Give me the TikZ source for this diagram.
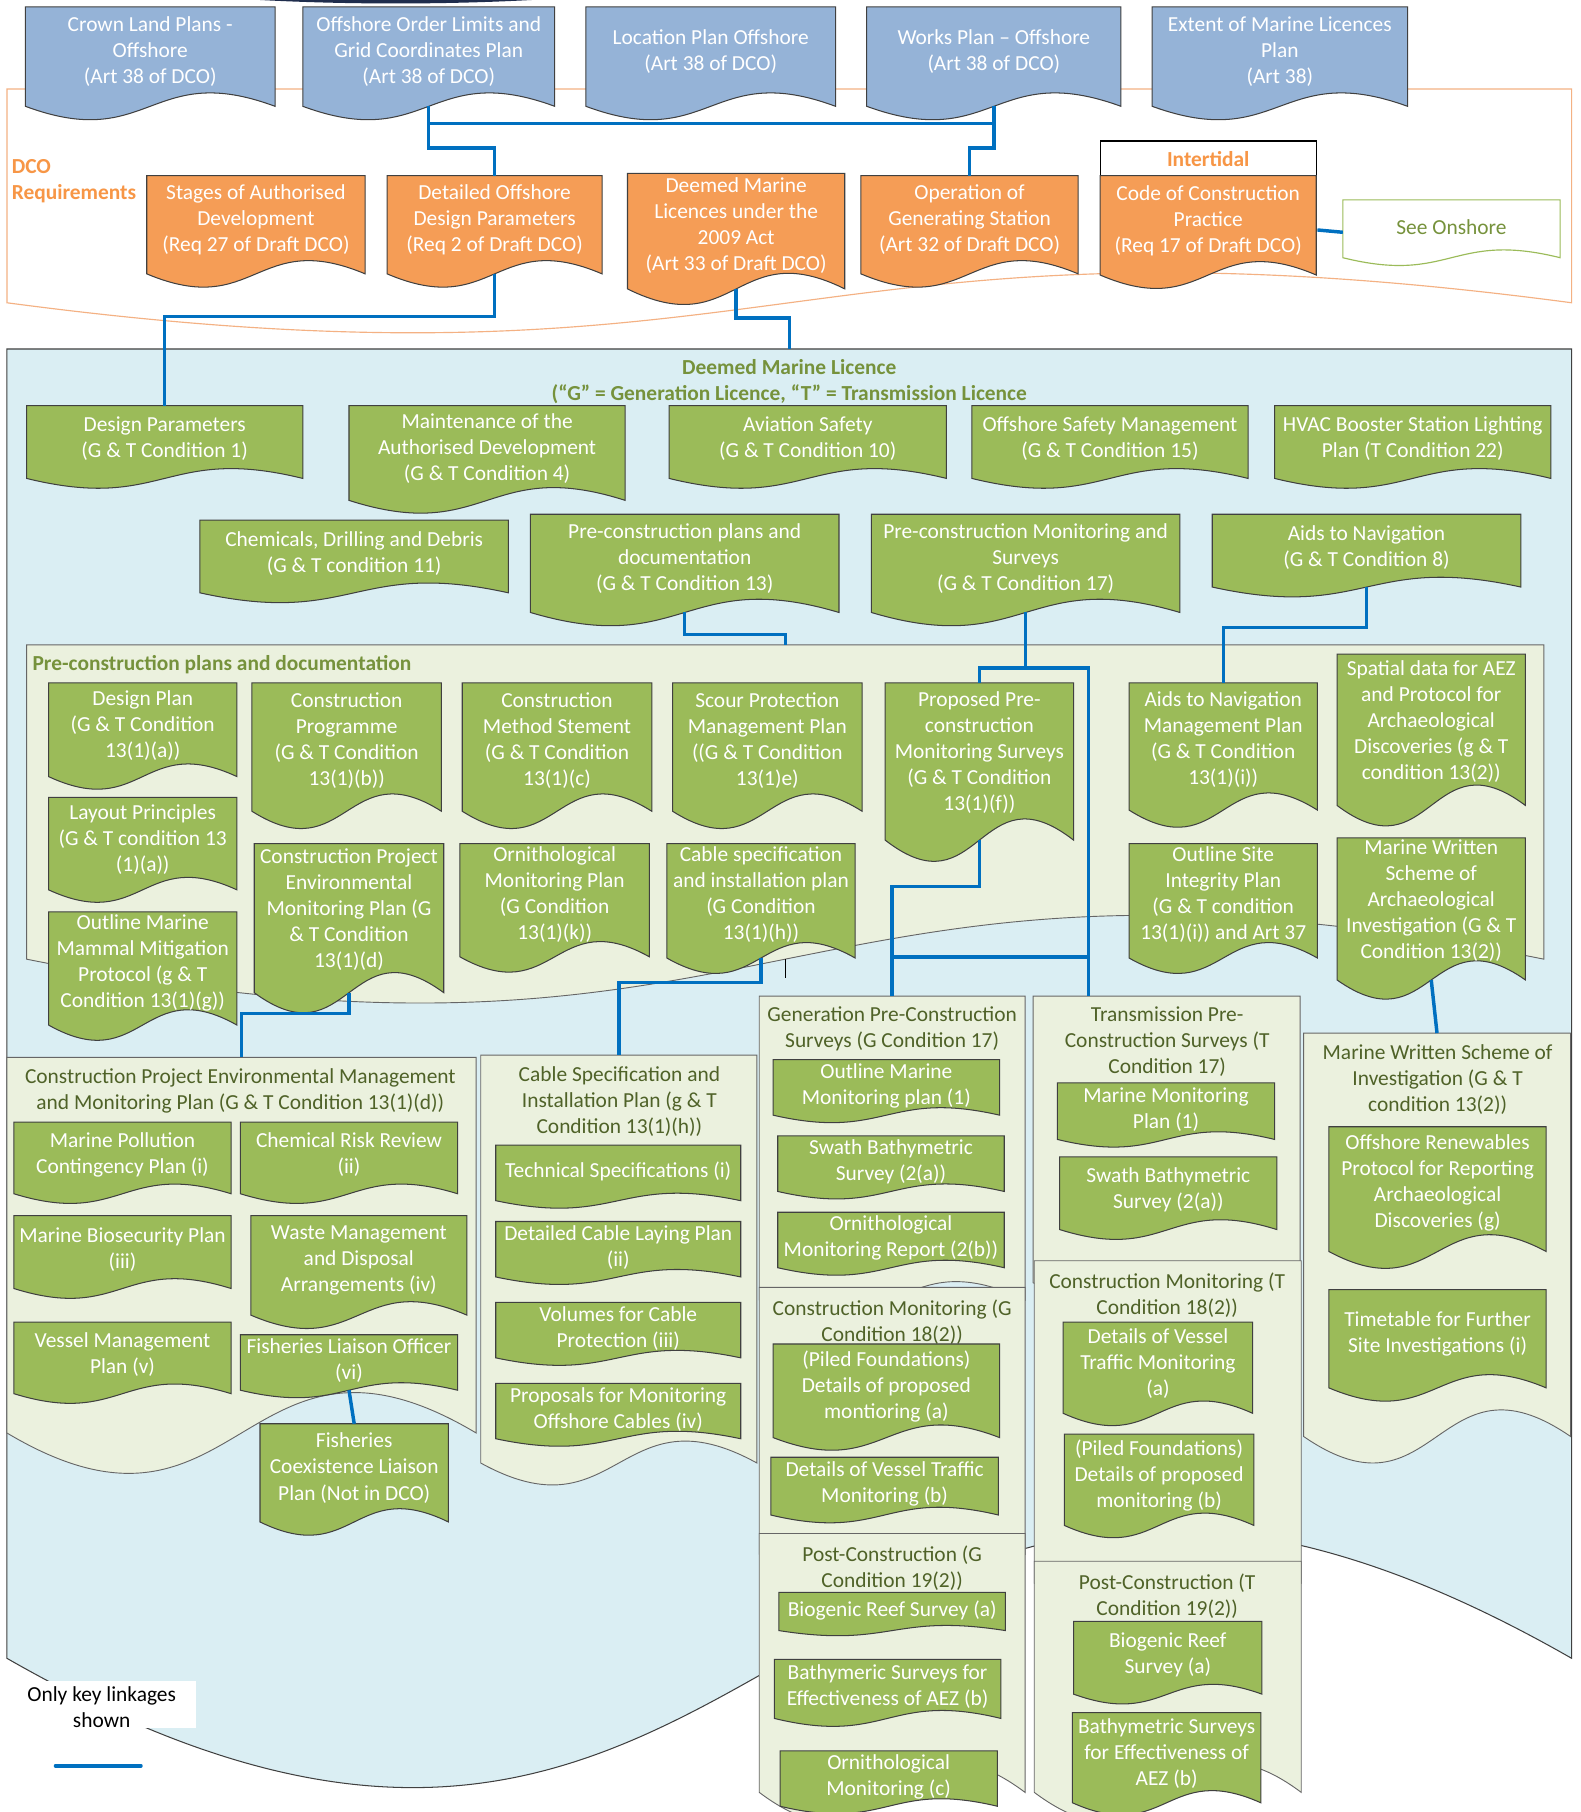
\documentclass[tikz,border=0pt]{standalone}
\usepackage{fontspec}
\setmainfont{Carlito}
\definecolor{docblue}{HTML}{95B3D7}
\definecolor{docorange}{HTML}{F59D56}
\definecolor{docgreen}{HTML}{9BBB59}
\definecolor{docline}{HTML}{404040}
\definecolor{bgblue}{HTML}{DAEEF3}
\definecolor{bggreen}{HTML}{EBF1DE}
\definecolor{linkblue}{HTML}{0070C0}
\definecolor{dcoorange}{HTML}{F79646}
\definecolor{dcoline}{HTML}{F4B183}
\definecolor{titlegreen}{HTML}{76923C}
\definecolor{regtext}{HTML}{4F6228}
\definecolor{navyband}{HTML}{1F2D4D}
\newcommand\docbox[7]{%
  \pgfmathsetmacro\dX{(#3+#5)/2}%
  \pgfmathsetmacro\dK{0.135*(#6-#4)/0.289}%
  \pgfmathsetmacro\dA{#6-\dK}%
  \pgfmathsetmacro\dB{#6+\dK}%
  \pgfmathsetmacro\dY{#4+0.43*(#6-#4)+1.8}%
  \path[#2] (#3,#4) -- (#5,#4) -- (#5,#6) .. controls (\dX,\dA) and (\dX,\dB) .. (#3,#6) -- cycle;
  \node[doctext,#2 txt] (#1) at (\dX,\dY) {#7};
  \coordinate (#1-t) at (\dX,#4);
  \coordinate (#1-b) at (\dX,#6);
}
\newcommand\regshape[7]{%
  \pgfmathsetmacro\dX{(#3+#5)/2}%
  \pgfmathsetmacro\dK{#7/0.289}%
  \pgfmathsetmacro\dA{#6-\dK}%
  \pgfmathsetmacro\dB{#6+\dK}%
  \path[#2] (#3,#4) -- (#5,#4) -- (#5,#6) .. controls (\dX,\dA) and (\dX,\dB) .. (#3,#6) -- cycle;
  \coordinate (#1-t) at (\dX,#4);
}
\begin{document}
\begin{tikzpicture}[x=1bp,y=-1bp,
  doctext/.style={align=center,inner sep=0pt,font=\fontsize{18.6}{22.6}\selectfont},
  boldtext/.style={doctext,font=\fontsize{18.6}{22.6}\selectfont\bfseries},
  bluedoc/.style={fill=docblue,draw=docline,line width=0.9pt},
  bluedoc txt/.style={text=white},
  orangedoc/.style={fill=docorange,draw=docline,line width=0.9pt},
  orangedoc txt/.style={text=white},
  greendoc/.style={fill=docgreen,draw=docline,line width=0.9pt},
  greendoc txt/.style={text=white},
  onshore/.style={fill=white,draw=docgreen,line width=1pt},
  onshore txt/.style={text=titlegreen},
  regbox/.style={fill=bggreen,draw=docline!80,line width=0.8pt},
  regtitle/.style={doctext,text=regtext},
  link/.style={draw=linkblue,line width=3pt},
]
\useasboundingbox (0,0) rectangle (1368,1568);
\fill[white] (0,0) rectangle (1368,1568);
% top sliver
\fill[navyband] (225,0) .. controls (300,4) and (385,4) .. (460,0) -- cycle;

% DCO requirements outline
\regshape{dco}{draw=dcoline,line width=1pt}{6}{77}{1360}{262}{26}
\node[boldtext,align=left,anchor=west,text=dcoorange] (dcolab) at (10,157) {DCO\\Requirements};

% top blue documents
\docbox{cl}{bluedoc}{22}{6}{238}{92}{Crown Land Plans -\\Offshore\\(Art 38 of DCO)}
\docbox{ool}{bluedoc}{262}{6}{480}{92}{Offshore Order Limits and\\Grid Coordinates Plan\\(Art 38 of DCO)}
\docbox{lpo}{bluedoc}{507}{6}{723}{92}{Location Plan Offshore\\(Art 38 of DCO)}
\docbox{wp}{bluedoc}{750}{6}{970}{92}{Works Plan – Offshore\\(Art 38 of DCO)}
\docbox{eml}{bluedoc}{997}{6}{1218}{92}{Extent of Marine Licences\\Plan\\(Art 38)}

% orange documents
\docbox{sad}{orangedoc}{127}{152}{316}{237}{Stages of Authorised\\Development\\(Req 27 of Draft DCO)}
\docbox{dod}{orangedoc}{335}{152}{521}{237}{Detailed Offshore\\Design Parameters\\(Req 2 of Draft DCO)}
\docbox{dml}{orangedoc}{543}{150}{731}{250}{Deemed Marine\\Licences under the\\2009 Act\\(Art 33 of Draft DCO)}
\docbox{ogs}{orangedoc}{745}{152}{933}{237}{Operation of\\Generating Station\\(Art 32 of Draft DCO)}
\draw[fill=white,draw=black,line width=0.9pt] (952,122) rectangle (1139,152);
\node[boldtext,text=dcoorange] (intert) at (1045.5,138) {Intertidal};
\docbox{cocp}{orangedoc}{952}{152}{1139}{238}{Code of Construction\\Practice\\(Req 17 of Draft DCO)}
\docbox{seeon}{onshore}{1162}{173}{1350}{223}{See Onshore}
\coordinate (cocp-e) at (1140,199);
\coordinate (seeon-w) at (1162,201);

% Deemed marine licence region
\regshape{dmlr}{fill=bgblue,draw=docline,line width=0.9pt}{6}{302}{1360}{1435}{112}
\node[boldtext,text=titlegreen] (dmltitle) at (683,330) {Deemed Marine Licence\\(“G” = Generation Licence, “T” = Transmission Licence};

\docbox{dp}{greendoc}{23}{351}{262}{414}{Design Parameters\\(G \& T Condition 1)}
\docbox{mad}{greendoc}{302}{351}{541}{433}{Maintenance of the\\Authorised Development\\(G \& T Condition 4)}
\docbox{avs}{greendoc}{579}{351}{819}{414}{Aviation Safety\\(G \& T Condition 10)}
\docbox{osm}{greendoc}{841}{351}{1080}{414}{Offshore Safety Management\\(G \& T Condition 15)}
\docbox{hvac}{greendoc}{1103}{351}{1342}{414}{HVAC Booster Station Lighting\\Plan (T Condition 22)}

\docbox{cdd}{greendoc}{173}{450}{440}{513}{Chemicals, Drilling and Debris\\(G \& T condition 11)}
\docbox{pcpd}{greendoc}{459}{445}{726}{530}{Pre-construction plans and\\documentation\\(G \& T Condition 13)}
\docbox{pcms}{greendoc}{754}{445}{1021}{530}{Pre-construction Monitoring and\\Surveys\\(G \& T Condition 17)}
\docbox{atn}{greendoc}{1049}{445}{1316}{508}{Aids to Navigation\\(G \& T Condition 8)}

% pre-construction region
\regshape{pcr}{regbox}{23}{558}{1336}{830}{38}
\node[boldtext,anchor=west,text=titlegreen] (pcrtitle) at (28,575) {Pre-construction plans and documentation};

\docbox{dpl}{greendoc}{42}{591}{205}{672}{Design Plan\\(G \& T Condition\\13(1)(a))}
\docbox{lp}{greendoc}{42}{690}{205}{770}{Layout Principles\\(G \& T condition 13\\(1)(a))}
\docbox{omm}{greendoc}{42}{789}{205}{887}{Outline Marine\\Mammal Mitigation\\Protocol (g \& T\\Condition 13(1)(g))}
\docbox{cpg}{greendoc}{218}{591}{382}{702}{Construction\\Programme\\(G \& T Condition\\13(1)(b))}
\docbox{cpemp}{greendoc}{220}{730}{384}{859}{Construction Project\\Environmental\\Monitoring Plan (G\\\& T Condition\\13(1)(d)}
\docbox{cms}{greendoc}{400}{591}{564}{702}{Construction\\Method Stement\\(G \& T Condition\\13(1)(c)}
\docbox{omp}{greendoc}{398}{730}{562}{828}{Ornithological\\Monitoring Plan\\(G Condition\\13(1)(k))}
\docbox{spmp}{greendoc}{582}{591}{746}{702}{Scour Protection\\Management Plan\\((G \& T Condition\\13(1)e)}
\docbox{csip}{greendoc}{577}{730}{740}{829}{Cable specification\\and installation plan\\(G Condition\\13(1)(h))}
\docbox{ppms}{greendoc}{766}{591}{929}{727}{Proposed Pre-\\construction\\Monitoring Surveys\\(G \& T Condition\\13(1)(f))}
\docbox{anmp}{greendoc}{977}{591}{1140}{701}{Aids to Navigation\\Management Plan\\(G \& T Condition\\13(1)(i))}
\docbox{osip}{greendoc}{977}{730}{1140}{829}{Outline Site\\Integrity Plan\\(G \& T condition\\13(1)(i)) and Art 37}
\docbox{sdaez}{greendoc}{1157}{566}{1320}{697}{Spatial data for AEZ\\and Protocol for\\Archaeological\\Discoveries (g \& T\\condition 13(2))}
\docbox{mwsa}{greendoc}{1157}{725}{1320}{848}{Marine Written\\Scheme of\\Archaeological\\Investigation (G \& T\\Condition 13(2))}
\coordinate (tk1) at (680,830);
\coordinate (tk2) at (680,846);
\draw[black,line width=1pt] (tk1) -- (tk2);

% CPEMMP region
\regshape{cpr}{regbox}{6}{915}{412}{1240}{35}
\node[regtitle] (cprtitle) at (208,944) {Construction Project Environmental Management\\and Monitoring Plan (G \& T Condition 13(1)(d))};
\docbox{mpcp}{greendoc}{12}{971}{200}{1033}{Marine Pollution\\Contingency Plan (i)}
\docbox{crr}{greendoc}{208}{971}{396}{1033}{Chemical Risk Review\\(ii)}
\docbox{mbp}{greendoc}{12}{1052}{200}{1115}{Marine Biosecurity Plan\\(iii)}
\docbox{wmda}{greendoc}{217}{1052}{404}{1138}{Waste Management\\and Disposal\\Arrangements (iv)}
\docbox{vmp}{greendoc}{12}{1144}{200}{1206}{Vessel Management\\Plan (v)}
\docbox{flo}{greendoc}{208}{1155}{396}{1203}{Fisheries Liaison Officer\\(vi)}
\docbox{fclp}{greendoc}{225}{1232}{388}{1317}{Fisheries\\Coexistence Liaison\\Plan (Not in DCO)}

% Cable region
\regshape{csr}{regbox}{416}{913}{655}{1266}{19}
\node[regtitle] (csrtitle) at (536,953) {Cable Specification and\\Installation Plan (g \& T\\Condition 13(1)(h))};
\docbox{tsp}{greendoc}{429}{991}{641}{1039}{Technical Specifications (i)}
\docbox{dclp}{greendoc}{429}{1057}{641}{1105}{Detailed Cable Laying Plan\\(ii)}
\docbox{vcp}{greendoc}{429}{1127}{641}{1175}{Volumes for Cable\\Protection (iii)}
\docbox{pmoc}{greendoc}{429}{1197}{641}{1245}{Proposals for Monitoring\\Offshore Cables (iv)}

% Generation pre-construction
\regshape{gpcs}{regbox}{657}{862}{887}{1125}{16}
\node[regtitle] (gpcstitle) at (772,890) {Generation Pre-Construction\\Surveys (G Condition 17)};
\docbox{omp1}{greendoc}{669}{917}{865}{965}{Outline Marine\\Monitoring plan (1)}
\docbox{sbs}{greendoc}{673}{983}{869}{1031}{Swath Bathymetric\\Survey (2(a))}
\docbox{omr}{greendoc}{673}{1049}{869}{1097}{Ornithological\\Monitoring Report (2(b))}

% Transmission pre-construction
\regshape{tpcs}{regbox}{894}{862}{1125}{1110}{15}
\node[regtitle] (tpcstitle) at (1010,901) {Transmission Pre-\\Construction Surveys (T\\Condition 17)};
\docbox{mmp}{greendoc}{915}{937}{1103}{986}{Marine Monitoring\\Plan (1)}
\docbox{sbst}{greendoc}{917}{1001}{1105}{1064}{Swath Bathymetric\\Survey (2(a))}

% Construction monitoring G
\regshape{cmg}{regbox}{657}{1114}{887}{1345}{15}
\node[regtitle] (cmgtitle) at (772,1144) {Construction Monitoring (G\\Condition 18(2))};
\docbox{pfa}{greendoc}{669}{1163}{865}{1244}{(Piled Foundations)\\Details of proposed\\montioring (a)}
\docbox{dvtb}{greendoc}{667}{1261}{864}{1311}{Details of Vessel Traffic\\Monitoring (b)}

% Construction monitoring T
\regshape{cmt}{regbox}{895}{1091}{1126}{1370}{15}
\node[regtitle] (cmttitle) at (1010,1121) {Construction Monitoring (T\\Condition 18(2))};
\docbox{dvta}{greendoc}{920}{1144}{1084}{1223}{Details of Vessel\\Traffic Monitoring\\(a)}
\docbox{pfb}{greendoc}{921}{1241}{1085}{1320}{(Piled Foundations)\\Details of proposed\\monitoring (b)}

% Post-construction G
\regshape{pcg}{regbox}{657}{1327}{887}{1551}{25}
\node[regtitle] (pcgtitle) at (772,1357) {Post-Construction (G\\Condition 19(2))};
\docbox{brsg}{greendoc}{674}{1378}{870}{1411}{Biogenic Reef Survey (a)}
\docbox{bsg}{greendoc}{670}{1436}{866}{1487}{Bathymeric Surveys for\\Effectiveness of AEZ (b)}
\docbox{omc}{greendoc}{675}{1515}{863}{1563}{Ornithological\\Monitoring (c)}

% Post-construction T
\regshape{pct}{regbox}{895}{1351}{1126}{1551}{25}
\node[regtitle] (pcttitle) at (1010,1381) {Post-Construction (T\\Condition 19(2))};
\docbox{brst}{greendoc}{929}{1403}{1092}{1466}{Biogenic Reef\\Survey (a)}
\docbox{bst}{greendoc}{928}{1482}{1091}{1560}{Bathymetric Surveys\\for Effectiveness of\\AEZ (b)}

% Marine WSI region
\regshape{mwr}{regbox}{1128}{894}{1359}{1243}{23}
\node[regtitle] (mwrtitle) at (1244,934) {Marine Written Scheme of\\Investigation (G \& T\\condition 13(2))};
\docbox{orp}{greendoc}{1150}{975}{1338}{1083}{Offshore Renewables\\Protocol for Reporting\\Archaeological\\Discoveries (g)}
\docbox{tfsi}{greendoc}{1150}{1116}{1338}{1201}{Timetable for Further\\Site Investigations (i)}

% legend
\fill[white] (17,1455) rectangle (170,1495);
\node[doctext,text=black] (keynote) at (88,1477) {Only key linkages\\shown};
\coordinate (lg1) at (48,1528);
\coordinate (lg2) at (122,1528);
\draw[link,line cap=round] (lg1) -- (lg2);

% connectors
\coordinate (hub) at (887.5,578);
\coordinate (tpcs-in) at (942,862);
\coordinate (j1) at (772,828);
\coordinate (j2) at (942,828);
\draw[link] (ool-b) -- ++(0,15) -| (wp-b);
\draw[link] (ool-b) -- ++(0,36) -| (dod-t);
\draw[link] (wp-b) -- ++(0,36) -| (ogs-t);
\draw[link] (dod-b) -- ++(0,37) -| (dp-t);
\draw[link] (dml-b) -- ++(0,25) -| (dmlr-t);
\draw[link] (cocp-e) -- (seeon-w);
\draw[link] (pcpd-b) -- ++(0,19) -| (pcr-t);
\draw[link] (pcms-b) -- (hub);
\draw[link] (ppms-t) |- (hub);
\draw[link] (tpcs-in) |- (hub);
\draw[link] (ppms-b) -- ++(0,40) -| (gpcs-t);
\draw[link] (j1) -- (j2);
\draw[link] (atn-b) -- ++(0,35) -| (anmp-t);
\draw[link] (cpemp-b) -- ++(0,18) -| (cpr-t);
\draw[link] (csip-b) -- ++(0,21) -| (csr-t);
\draw[link] (mwsa-b) -- (mwr-t);
\draw[link] (flo-b) -- (fclp-t);
\end{tikzpicture}
\end{document}
